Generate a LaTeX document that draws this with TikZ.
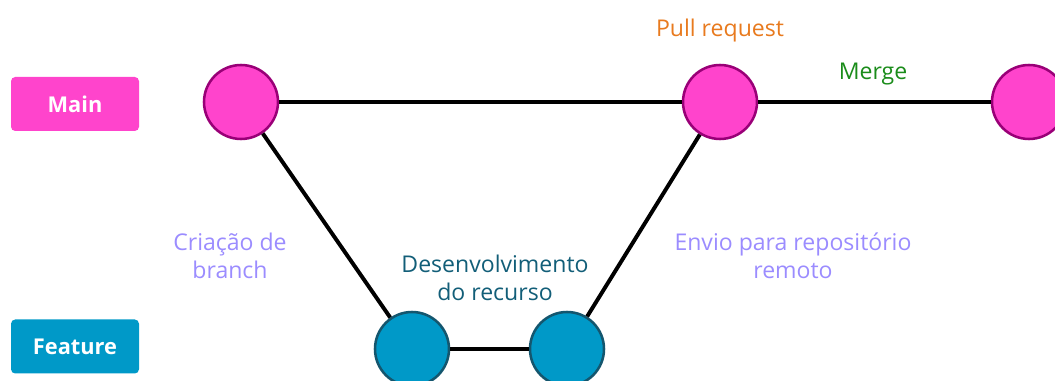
\documentclass[tikz,border=0pt]{standalone}
\usepackage{fontspec}
\setmainfont{Open Sans}
\usepackage{xcolor}
\usepackage{tikz}
\usetikzlibrary{positioning, calc}
\definecolor{mainpink}{HTML}{FF44CC}
\definecolor{mainborder}{HTML}{990077}
\definecolor{featblue}{HTML}{0099C8}
\definecolor{featborder}{HTML}{14566E}
\definecolor{prorange}{HTML}{E87A1E}
\definecolor{mergegreen}{HTML}{1A8C1A}
\definecolor{notelilac}{HTML}{9B8CFF}
\definecolor{devteal}{HTML}{125E78}

\begin{document}
\begin{tikzpicture}[
    branchbox/.style={rounded corners=3pt, minimum width=3.2cm, minimum height=1.35cm, text=white, font=\fontsize{15.5}{18}\selectfont\bfseries},
    commit/.style={circle, line width=1.8pt, minimum size=1.85cm, inner sep=0pt},
    link/.style={line width=2.8pt},
    note/.style={align=center, font=\fontsize{16.4}{19.8}\selectfont}
]
    \useasboundingbox (0,0) rectangle (26.375,9.525);

    % branch labels
    \node[branchbox, fill=mainpink] (main) at (1.875,6.925) {Main};
    \node[branchbox, fill=featblue] (feature) at (1.875,0.8625) {Feature};

    % commits
    \node[commit, fill=mainpink, draw=mainborder] (m1) at (6.025,6.975) {};
    \node[commit, fill=mainpink, draw=mainborder] (m2) at (18.0,6.975) {};
    \node[commit, fill=mainpink, draw=mainborder] (m3) at (25.725,6.975) {};
    \node[commit, fill=featblue, draw=featborder] (f1) at (10.3,0.8) {};
    \node[commit, fill=featblue, draw=featborder] (f2) at (14.175,0.8) {};

    % history
    \draw[link] (m1) -- (m2);
    \draw[link] (m2) -- (m3);
    \draw[link] (m1) -- (f1);
    \draw[link] (f1) -- (f2);
    \draw[link] (f2) -- (m2);

    % notes
    \node[note, text=prorange] (pr) at (18.0,8.76) {Pull request};
    \node[note, text=mergegreen] (merge) at (21.825,7.67) {Merge};
    \node[note, text=notelilac] (create) at (5.75,3.125) {Criação de\\branch};
    \node[note, text=devteal] (dev) at (12.375,2.575) {Desenvolvimento\\do recurso};
    \node[note, text=notelilac] (push) at (19.825,3.125) {Envio para repositório\\remoto};
\end{tikzpicture}
\end{document}
